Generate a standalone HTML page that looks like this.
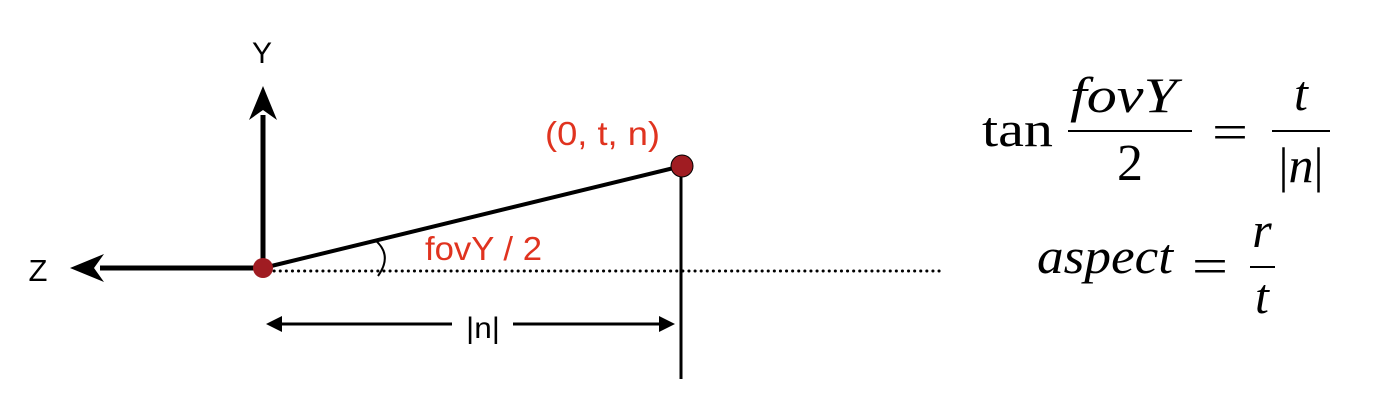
<!DOCTYPE html>
<html><head><meta charset="utf-8"><style>
html,body{margin:0;padding:0;background:#fff;}
svg{display:block;}
.s{font-family:"Liberation Sans",Arial,sans-serif;}
.m{font-family:"Liberation Serif","DejaVu Serif",serif;}
</style></head><body>
<svg width="1374" height="406" viewBox="0 0 1374 406">
<g><line x1="268" y1="271" x2="940" y2="271" stroke="#000" stroke-width="3" stroke-dasharray="0.1 6" stroke-linecap="round"/></g>
<path d="M263,268 L263,115" stroke="#000" stroke-width="5"/>
<path d="M263,86 L277,120 L263,110 L249,120 Z" fill="#000"/>
<path d="M263,268 L100,268" stroke="#000" stroke-width="5"/>
<path d="M70,268 L104,254 L94,268 L104,282 Z" fill="#000"/>
<text class="s" x="262" y="63" font-size="30" text-anchor="middle">Y</text>
<text class="s" x="38" y="281" font-size="31" text-anchor="middle">Z</text>
<line x1="263" y1="268" x2="682" y2="166" stroke="#000" stroke-width="4"/>
<line x1="681" y1="166" x2="681" y2="379" stroke="#000" stroke-width="3"/>
<circle cx="263" cy="268" r="10" fill="#a01c22"/>
<circle cx="682" cy="166" r="11" fill="#a01c22" stroke="#000" stroke-width="1"/>
<path d="M375,240 Q393,255 378,276" fill="none" stroke="#000" stroke-width="2"/>
<text class="s" x="545" y="145" font-size="33" fill="#e0331f" textLength="115" lengthAdjust="spacingAndGlyphs">(0, t, n)</text>
<text class="s" x="425" y="260" font-size="33" fill="#e0331f" textLength="117" lengthAdjust="spacingAndGlyphs">fovY / 2</text>
<g>
<line x1="280" y1="324" x2="452" y2="324" stroke="#000" stroke-width="3"/>
<path d="M266,324 L282,316 L282,332 Z" fill="#000"/>
<line x1="513" y1="324" x2="660" y2="324" stroke="#000" stroke-width="3"/>
<path d="M675,324 L659,316 L659,332 Z" fill="#000"/>
</g>
<text class="s" x="466" y="338" font-size="30" textLength="34" lengthAdjust="spacingAndGlyphs">|n|</text>
<g class="m">
<text x="982" y="146" font-size="50" textLength="71" lengthAdjust="spacingAndGlyphs">tan</text>
<text x="1070" y="112" font-size="50" font-style="italic" textLength="107" lengthAdjust="spacingAndGlyphs">fovY</text>
<line x1="1068" y1="131" x2="1192" y2="131" stroke="#000" stroke-width="2"/>
<text x="1130" y="180" font-size="52" text-anchor="middle">2</text>
<text x="1212" y="149" font-size="50" textLength="36" lengthAdjust="spacingAndGlyphs">=</text>
<text x="1301" y="110" font-size="50" font-style="italic" text-anchor="middle">t</text>
<line x1="1272" y1="131" x2="1330" y2="131" stroke="#000" stroke-width="2"/>
<text x="1301" y="182" font-size="50" text-anchor="middle">|<tspan font-style="italic">n</tspan>|</text>
</g>
<g class="m">
<text x="1037" y="273" font-size="50" font-style="italic" textLength="136" lengthAdjust="spacingAndGlyphs">aspect</text>
<text x="1192" y="283" font-size="50" textLength="36" lengthAdjust="spacingAndGlyphs">=</text>
<text x="1262" y="247" font-size="50" font-style="italic" text-anchor="middle">r</text>
<line x1="1250" y1="267" x2="1275" y2="267" stroke="#000" stroke-width="2"/>
<text x="1262" y="313" font-size="50" font-style="italic" text-anchor="middle">t</text>
</g>
</svg>
</body></html>
